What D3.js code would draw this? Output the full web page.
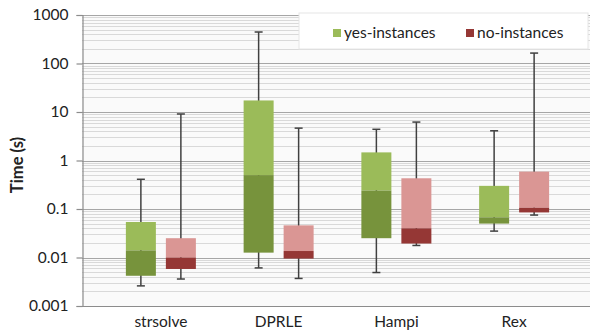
<!DOCTYPE html>
<html>
<head>
<meta charset="utf-8">
<script src="https://cdn.jsdelivr.net/npm/d3@7"></script>
<style>
  html, body { margin: 0; padding: 0; background: #fff; }
  svg { display: block; font-family: Lato, "Open Sans", sans-serif; }
</style>
</head>
<body>
<svg id="chart" width="590" height="333"></svg>
<script>
// Solvers on the x axis
const solvers = ["strsolve", "DPRLE", "Hampi", "Rex"];
const seriesNames = ["yes-instances", "no-instances"];

// Box statistics per solver (seconds): min, lower quartile, median, upper quartile, max
const yesMin    = [0.0026, 0.0061, 0.0049, 0.035];
const yesQ1     = [0.0042, 0.0126, 0.025, 0.050];
const yesMedian = [0.014, 0.50, 0.24, 0.067];
const yesQ3     = [0.054, 17.3, 1.47, 0.30];
const yesMax    = [0.41, 446, 4.4, 4.1];

const noMin     = [0.0036, 0.0037, 0.0177, 0.075];
const noQ1      = [0.0058, 0.0095, 0.0194, 0.085];
const noMedian  = [0.010, 0.0136, 0.040, 0.106];
const noQ3      = [0.025, 0.046, 0.43, 0.59];
const noMax     = [9.1, 4.65, 6.2, 164];

const yTicks = [0.001, 0.01, 0.1, 1, 10, 100, 1000];
const yTickLabels = ["0.001", "0.01", "0.1", "1", "10", "100", "1000"];

const colors = {
  "yes-instances": { upper: "#9bbb59", lower: "#77933c", legend: "#9bbb59" },
  "no-instances":  { upper: "#da9694", lower: "#953735", legend: "#953735" }
};

const boxes = [];
solvers.forEach((s, i) => {
  boxes.push({ solver: s, series: "yes-instances", min: yesMin[i], q1: yesQ1[i], med: yesMedian[i], q3: yesQ3[i], max: yesMax[i] });
  boxes.push({ solver: s, series: "no-instances", min: noMin[i], q1: noQ1[i], med: noMedian[i], q3: noQ3[i], max: noMax[i] });
});

const svg = d3.select("#chart");
const plotLeft = 82, plotRight = 590, plotTop = 15, plotBottom = 306;
const fontSize = 15.5;

const y = d3.scaleLog().domain([0.001, 1000]).range([plotBottom, plotTop]);
const x = d3.scaleBand().domain(solvers).range([102, 573]).paddingInner(0).paddingOuter(0);
const xs = d3.scaleBand().domain(seriesNames).range([-35, 35]).paddingInner(0.25).paddingOuter(0);

// Plot background
svg.append("rect")
  .attr("x", plotLeft).attr("y", plotTop)
  .attr("width", plotRight - plotLeft).attr("height", plotBottom - plotTop)
  .attr("fill", "#fafafa");

// Minor gridlines (2..9 within each decade)
const minor = [];
for (let e = -3; e < 3; e++) {
  for (let m = 2; m <= 9; m++) minor.push(m * Math.pow(10, e));
}
svg.append("g").selectAll("line").data(minor).join("line")
  .attr("x1", plotLeft).attr("x2", plotRight)
  .attr("y1", d => Math.round(y(d)) + 0.5).attr("y2", d => Math.round(y(d)) + 0.5)
  .attr("stroke", "#d9d9d9").attr("stroke-width", 1);

// Major gridlines at each decade
svg.append("g").selectAll("line").data(yTicks.slice(1)).join("line")
  .attr("x1", plotLeft).attr("x2", plotRight)
  .attr("y1", d => Math.round(y(d)) + 0.5).attr("y2", d => Math.round(y(d)) + 0.5)
  .attr("stroke", "#a6a6a6").attr("stroke-width", 1.2);

// Y axis
const yAxis = d3.axisLeft(y)
  .tickValues(yTicks)
  .tickFormat((d, i) => yTickLabels[i])
  .tickSize(6).tickPadding(8);
const gy = svg.append("g").attr("transform", `translate(${plotLeft + 0.5},0)`).call(yAxis);
gy.select(".domain").attr("stroke", "#8c8c8c").attr("stroke-width", 1.2);
gy.selectAll(".tick line").attr("stroke", "#8c8c8c").attr("stroke-width", 1.2);
gy.selectAll(".tick text").attr("font-size", fontSize).attr("fill", "#222")
  .attr("font-family", "Lato, 'Open Sans', sans-serif");

// X axis line and category labels
svg.append("line")
  .attr("x1", plotLeft).attr("x2", plotRight)
  .attr("y1", plotBottom + 0.5).attr("y2", plotBottom + 0.5)
  .attr("stroke", "#8c8c8c").attr("stroke-width", 1.2);
svg.append("g").selectAll("text").data(solvers).join("text")
  .attr("x", d => x(d) + x.bandwidth() / 2)
  .attr("y", 327)
  .attr("text-anchor", "middle")
  .attr("font-size", fontSize).attr("fill", "#222")
  .text(d => d);

// Y axis title
svg.append("text")
  .attr("transform", "translate(23,165) rotate(-90)")
  .attr("text-anchor", "middle")
  .attr("font-size", 16.5).attr("font-weight", "bold").attr("fill", "#222")
  .text("Time (s)");

// Box plots
const g = svg.append("g");
const cx = d => x(d.solver) + x.bandwidth() / 2 + xs(d.series);
const bw = xs.bandwidth();

// Whiskers
g.selectAll("line.whisker").data(boxes).join("line")
  .attr("class", "whisker")
  .attr("x1", d => cx(d) + bw / 2).attr("x2", d => cx(d) + bw / 2)
  .attr("y1", d => y(d.max)).attr("y2", d => y(d.min))
  .attr("stroke", "#404040").attr("stroke-width", 1.5);
["max", "min"].forEach(k => {
  g.selectAll("line.cap-" + k).data(boxes).join("line")
    .attr("class", "cap-" + k)
    .attr("x1", d => cx(d) + bw / 2 - 4).attr("x2", d => cx(d) + bw / 2 + 4)
    .attr("y1", d => y(d[k])).attr("y2", d => y(d[k]))
    .attr("stroke", "#404040").attr("stroke-width", 1.5);
});

// Upper half of box (median to upper quartile)
g.selectAll("rect.upper").data(boxes).join("rect")
  .attr("class", "upper")
  .attr("x", cx).attr("width", bw)
  .attr("y", d => y(d.q3)).attr("height", d => y(d.med) - y(d.q3))
  .attr("fill", d => colors[d.series].upper);
// Lower half of box (lower quartile to median)
g.selectAll("rect.lower").data(boxes).join("rect")
  .attr("class", "lower")
  .attr("x", cx).attr("width", bw)
  .attr("y", d => y(d.med)).attr("height", d => y(d.q1) - y(d.med))
  .attr("fill", d => colors[d.series].lower);

// Legend
const lg = svg.append("g");
lg.append("rect")
  .attr("x", 299).attr("y", 13).attr("width", 289).attr("height", 36)
  .attr("fill", "#fff").attr("stroke", "#e6e6e6");
const legendX = [333, 466];
seriesNames.forEach((s, i) => {
  lg.append("rect")
    .attr("x", legendX[i]).attr("y", 29).attr("width", 8).attr("height", 8)
    .attr("fill", colors[s].legend);
  lg.append("text")
    .attr("x", legendX[i] + 11).attr("y", 38)
    .attr("font-size", fontSize).attr("fill", "#222")
    .text(s);
});
</script>
</body>
</html>
